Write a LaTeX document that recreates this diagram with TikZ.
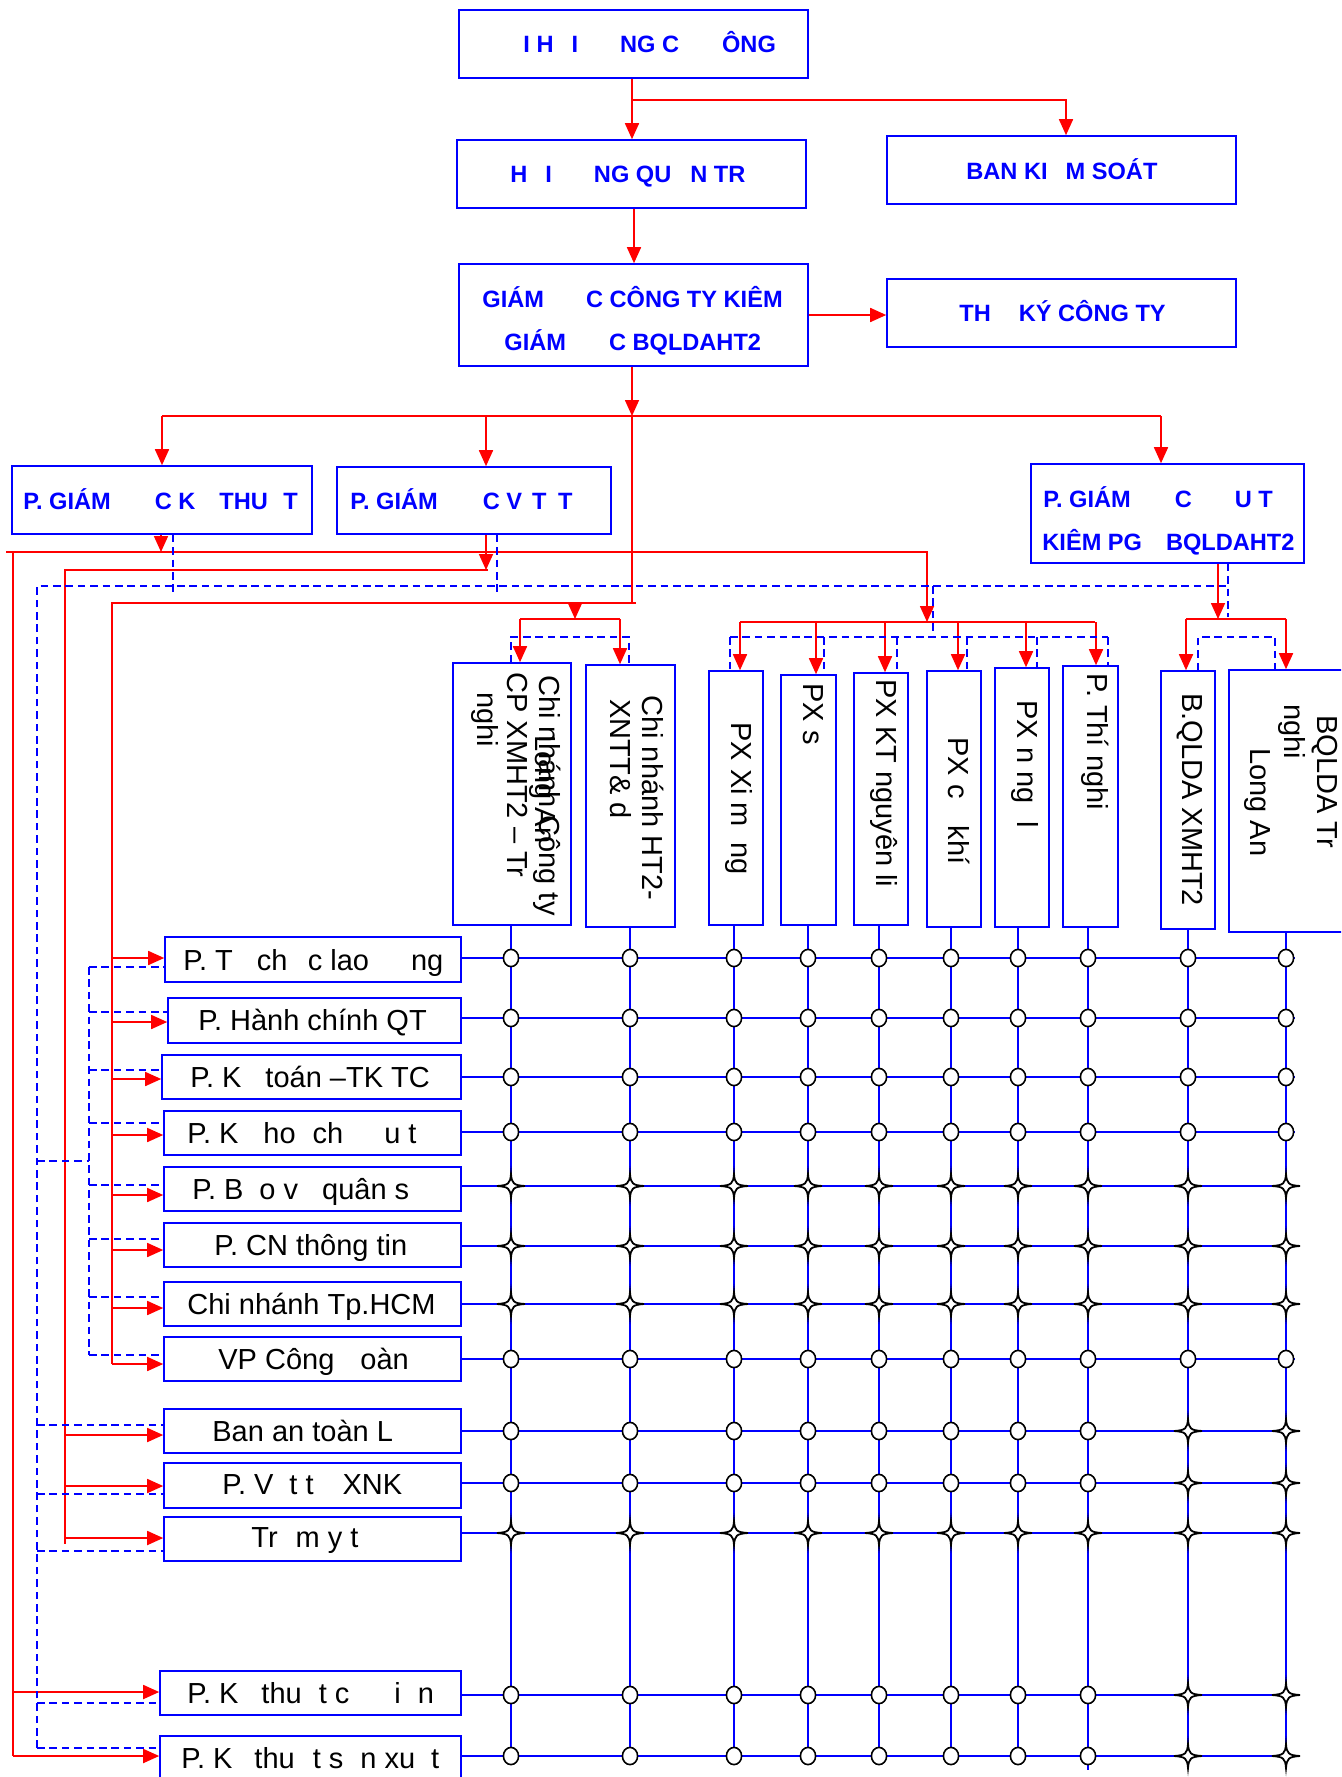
\documentclass[tikz,border=0pt]{standalone}
\usepackage{fontspec}
\setmainfont{Liberation Sans}
\usetikzlibrary{arrows.meta}
\begin{document}
\begin{tikzpicture}[x=0.5pt,y=-0.5pt,
  bx/.style={draw=blue, line width=0.8pt, inner sep=0pt},
  ra/.style={draw=red, line width=0.85pt, -{Triangle[length=8pt,width=7pt]}},
  rl/.style={draw=red, line width=0.85pt},
  bd/.style={draw=blue, line width=0.75pt, dash pattern=on 3.8pt off 2.4pt},
  gl/.style={draw=blue, line width=0.75pt},
  txtb/.style={font=\fontsize{11.8}{14}\selectfont\bfseries, text=blue, anchor=base west, inner sep=0pt},
  txtl/.style={font=\fontsize{14.5}{17}\selectfont, text=black, anchor=base west, inner sep=0pt},
  txtv/.style={txtl, rotate=-90},
  circm/.pic={\draw[black,line width=0.8pt,fill=white] (0,0) ellipse [x radius=3.8pt, y radius=4.3pt];},
  starm/.pic={\draw[black,line width=0.9pt,fill=white,line join=miter] (14,0) .. controls (2.4,0.8) and (0.8,2.4) .. (0,12) .. controls (-0.8,2.4) and (-2.4,0.8) .. (-14,0) .. controls (-2.4,-0.8) and (-0.8,-2.4) .. (0,-12) .. controls (0.8,-2.4) and (2.4,-0.8) .. (14,0) -- cycle;}
]
\useasboundingbox (0,0) rectangle (1341,1777);
\clip (0,0) rectangle (1341,1777);

% ---------- top boxes
\node[bx, minimum width=174.5pt, minimum height=34pt] (b1) at (633.5,44) {};
\node[bx, minimum width=174.5pt, minimum height=34pt] (b2) at (631.5,174) {};
\node[bx, minimum width=174.5pt, minimum height=34pt] (bks) at (1061.5,170) {};
\node[bx, minimum width=174.5pt, minimum height=51pt] (b3) at (633.5,315) {};
\node[bx, minimum width=174.5pt, minimum height=34pt] (tk) at (1061.5,313) {};
\node[bx, minimum width=150pt, minimum height=34pt] (pkt) at (162,500) {};
\node[bx, minimum width=137pt, minimum height=33.5pt] (pvt) at (474,500.5) {};
\node[bx, minimum width=136.5pt, minimum height=49.5pt] (pdt) at (1167.5,513.5) {};

\node[txtb] (t1) at (523,53) {I H\hspace{9pt}I\hspace{21pt}NG C\hspace{21.5pt}ÔNG};
\node[txtb] (t2) at (510,183) {H\hspace{9pt}I\hspace{21pt}NG QU\hspace{9.5pt}N TR};
\node[txtb] (tbks) at (966,179) {BAN KI\hspace{9pt}M SOÁT};
\node[txtb] (t3a) at (482,307) {GIÁM\hspace{21pt}C CÔNG TY KIÊM};
\node[txtb] (t3b) at (504,350) {GIÁM\hspace{21.5pt}C BQLDAHT2};
\node[txtb] (ttk) at (959,321) {TH\hspace{14pt}KÝ CÔNG TY};
\node[txtb] (tkt) at (23,509) {P. GIÁM\hspace{22pt}C K\hspace{12pt}THU\hspace{7.75pt}T};
\node[txtb] (tvt) at (350,509) {P. GIÁM\hspace{22.5pt}C V\hspace{5pt}T\hspace{5.8pt}T};
\node[txtb] (tdt1) at (1043,507) {P. GIÁM\hspace{22pt}C\hspace{21.5pt}U T};
\node[txtb] (tdt2) at (1042,550) {KIÊM PG\hspace{12pt}BQLDAHT2};

% ---------- vertical boxes
\node[bx, minimum width=59pt, minimum height=131pt] (v1) at (512,794) {};
\node[bx, minimum width=44.5pt, minimum height=131pt] (v2) at (630.5,796) {};
\node[bx, minimum width=27pt, minimum height=127pt] (v3) at (736,798) {};
\node[bx, minimum width=27.5pt, minimum height=125pt] (v4) at (808.5,800) {};
\node[bx, minimum width=27pt, minimum height=126pt] (v5) at (881,799) {};
\node[bx, minimum width=27pt, minimum height=128pt] (v6) at (954,799) {};
\node[bx, minimum width=27pt, minimum height=129.5pt] (v7) at (1022,797.5) {};
\node[bx, minimum width=27.5pt, minimum height=130.5pt] (v8) at (1090.5,796.5) {};
\node[bx, minimum width=27pt, minimum height=129pt] (v9) at (1188,800) {};
\node[bx, minimum width=65.5pt, minimum height=131pt] (v10) at (1294.5,801) {};

\node[txtv] (tv1a) at (539,675) {Chi nhánh Công ty};
\node[txtv] (tv1d) at (535,735) {Long An};
\node[txtv] (tv1b) at (507,672) {CP XMHT2 – Tr};
\node[txtv] (tv1c) at (477,692) {nghi};
\node[txtv] (tv2a) at (642,695) {Chi nhánh HT2-};
\node[txtv] (tv2b) at (610,699) {XNTT\& d};
\node[txtv] (tv3) at (731,722) {PX Xi m\hspace{7.5pt}ng};
\node[txtv] (tv4) at (803,683) {PX s};
\node[txtv] (tv5) at (876,679) {PX KT nguyên li};
\node[txtv] (tv6) at (948,737) {PX c\hspace{13.5pt}khí};
\node[txtv] (tv7) at (1017,700) {PX n ng\hspace{9pt}l};
\node[txtv] (tv8) at (1087,673) {P. Thí nghi};
\node[txtv] (tv9) at (1182,693) {B.QLDA XMHT2};
\node[txtv] (tv10a) at (1317,715) {BQLDA Tr};
\node[txtv] (tv10b) at (1284,704) {nghi};
\node[txtv] (tv10c) at (1250,748) {Long An};

% ---------- lower boxes
\node[bx, minimum width=148pt, minimum height=22.5pt] (h1) at (313,959.5) {};
\node[bx, minimum width=146.5pt, minimum height=22.5pt] (h2) at (314.5,1020.5) {};
\node[bx, minimum width=149.5pt, minimum height=22pt] (h3) at (311.5,1077) {};
\node[bx, minimum width=148.5pt, minimum height=22pt] (h4) at (312.5,1133) {};
\node[bx, minimum width=148.5pt, minimum height=22pt] (h5) at (312.5,1189) {};
\node[bx, minimum width=148.5pt, minimum height=22pt] (h6) at (312.5,1245) {};
\node[bx, minimum width=148.5pt, minimum height=22pt] (h7) at (312.5,1304) {};
\node[bx, minimum width=148.5pt, minimum height=22pt] (h8) at (312.5,1359) {};
\node[bx, minimum width=148.5pt, minimum height=22pt] (h9) at (312.5,1431) {};
\node[bx, minimum width=148.5pt, minimum height=22.5pt] (h10) at (312.5,1485.5) {};
\node[bx, minimum width=148.5pt, minimum height=22pt] (h11) at (312.5,1539) {};
\node[bx, minimum width=150.5pt, minimum height=22pt] (h12) at (310.5,1693) {};
\node[bx, minimum width=150.5pt, minimum height=22pt] (h13) at (310.5,1758) {};

\node[txtl] (th1) at (183,970) {P. T\hspace{12pt}ch\hspace{10.2pt}c lao\hspace{21pt}ng};
\node[txtl] (th2) at (198,1030) {P. Hành chính QT};
\node[txtl] (th3) at (190,1087) {P. K\hspace{12pt}toán –TK TC};
\node[txtl] (th4) at (187,1143) {P. K\hspace{12.5pt}ho\hspace{8.5pt}ch\hspace{20.5pt}u t};
\node[txtl] (th5) at (192,1199) {P. B\hspace{8pt}o v\hspace{12pt}quân s};
\node[txtl] (th6) at (214,1255) {P. CN thông tin};
\node[txtl] (th7) at (187,1314) {Chi nhánh Tp.HCM};
\node[txtl] (th8) at (218,1369) {VP Công\hspace{13pt}oàn};
\node[txtl] (th9) at (212,1441) {Ban an toàn L};
\node[txtl] (th10) at (222,1494) {P. V\hspace{8pt}t t\hspace{14.5pt}XNK};
\node[txtl] (th11) at (251,1547) {Tr\hspace{9pt}m y t};
\node[txtl] (th12) at (187,1703) {P. K\hspace{11.5pt}thu\hspace{8.5pt}t c\hspace{22.5pt}i\hspace{8.5pt}n};
\node[txtl] (th13) at (181,1768) {P. K\hspace{11pt}thu\hspace{9pt}t s\hspace{8.5pt}n xu\hspace{8pt}t};

% ---------- grid coordinates
\coordinate (c1) at (511,0); \coordinate (c2) at (630,0); \coordinate (c3) at (734,0);
\coordinate (c4) at (808,0); \coordinate (c5) at (879,0); \coordinate (c6) at (951,0);
\coordinate (c7) at (1018,0); \coordinate (c8) at (1088,0); \coordinate (c9) at (1188,0);
\coordinate (c10) at (1286,0); \coordinate (cend) at (1295,0);
\coordinate (r1) at (0,958); \coordinate (r2) at (0,1018); \coordinate (r3) at (0,1077);
\coordinate (r4) at (0,1132); \coordinate (r5) at (0,1186); \coordinate (r6) at (0,1246);
\coordinate (r7) at (0,1304); \coordinate (r8) at (0,1359); \coordinate (r9) at (0,1431);
\coordinate (r10) at (0,1483); \coordinate (r11) at (0,1533); \coordinate (r12) at (0,1695);
\coordinate (r13) at (0,1756);

% ---------- grid lines
\foreach \c/\v in {1/v1,2/v2,3/v3,4/v4,5/v5,6/v6,7/v7,9/v9,10/v10}
  \draw[gl] (\v.south -| c\c) -- (c\c |- r13);
\draw[gl] (v8.south -| c8) -- (1088,1770);
\foreach \i in {1,...,13}
  \draw[gl] (h\i.east |- r\i) -- (cend |- r\i);

% ---------- markers
\foreach \r in {1,2,3,4,8}
  \foreach \c in {1,...,10}
    \pic at (c\c |- r\r) {circm};
\foreach \r in {5,6,7,11}
  \foreach \c in {1,...,10}
    \pic at (c\c |- r\r) {starm};
\foreach \r in {9,10,12,13}{
  \foreach \c in {1,...,8}
    \pic at (c\c |- r\r) {circm};
  \foreach \c in {9,10}
    \pic at (c\c |- r\r) {starm};
}

% ---------- red connectors (top)
\draw[ra] (b1.south -| 632,0) -- (b2.north -| 632,0);
\draw[ra] (632,100) -| (bks.north -| 1066,0);
\draw[ra] (b2.south -| 634,0) -- (b3.north -| 634,0);
\draw[ra] (b3.east) -- (tk.west |- b3.east);
\draw[ra] (b3.south -| 632,0) -- (632,416);
\draw[rl] (162,416) -- (1161,416);
\draw[ra] (162,416) -- (pkt.north);
\draw[ra] (486,416) -- (pvt.north -| 486,0);
\draw[ra] (1161,416) -- (pdt.north -| 1161,0);
\draw[rl] (632,416) -- (632,603);
\draw[rl] (636,603) -- (112,603) -- (112,1364);

\draw[ra] (pkt.south -| 161,0) -- (161,552);
\draw[rl] (6,552) -- (928,552);
\draw[rl] (13,552) -- (13,1756);
\draw[ra] (927,552) -- (927,622);
\draw[rl] (740,622) -- (1095,622);
\foreach \x/\v in {740/v3,816/v4,885/v5,958/v6,1026/v7,1096/v8}
  \draw[ra] (\x,622) -- (\v.north -| \x,0);

\draw[ra] (pvt.south -| 486,0) -- (486,570);
\draw[rl] (488,570) -- (65,570) -- (65,1544);

\draw[ra] (575,603) -- (575,619);
\draw[rl] (520,619) -- (620,619);
\draw[ra] (520,619) -- (v1.north -| 520,0);
\draw[ra] (620,619) -- (v2.north -| 620,0);

\draw[ra] (pdt.south -| 1218,0) -- (1218,619);
\draw[rl] (1186,619) -- (1286,619);
\draw[ra] (1186,619) -- (v9.north -| 1186,0);
\draw[ra] (1286,619) -- (v10.north -| 1286,0);

% ---------- red arrows to lower boxes
\foreach \i/\y in {1/958,2/1022,3/1079,4/1135,5/1195,6/1250,7/1308,8/1364}
  \draw[ra] (112,\y) -- (h\i.west |- 0,\y);
\foreach \i/\y in {9/1435,10/1486,11/1538}
  \draw[ra] (65,\y) -- (h\i.west |- 0,\y);
\foreach \i/\y in {12/1692,13/1756}
  \draw[ra] (13,\y) -- (h\i.west |- 0,\y);

% ---------- blue dashed
\draw[bd] (pkt.south -| 173,0) -- (173,592);
\draw[bd] (pvt.south -| 497,0) -- (497,592);
\draw[bd] (37,1748) -- (37,586) -- (1228,586);
\draw[bd] (pdt.south -| 1228,0) -- (1228,617);
\draw[bd] (933,586) -- (933,637);
\draw[bd] (730,637) -- (1108,637);
\foreach \x/\v in {730/v3,824/v4,897/v5,967/v6,1037/v7,1108/v8}
  \draw[bd] (\x,637) -- (\v.north -| \x,0);
\draw[bd] (v1.north -| 511,0) -- (511,637) -- (629,637) -- (v2.north -| 629,0);
\draw[bd] (v9.north -| 1198,0) -- (1198,637) -- (1275,637) -- (v10.north -| 1275,0);
\draw[bd] (89,967) -- (89,1355);
\draw[bd] (37,1161) -- (89,1161);
\foreach \i/\y in {1/967,2/1012,3/1070,4/1123,5/1185,6/1239,7/1297,8/1355}
  \draw[bd] (89,\y) -- (h\i.west |- 0,\y);
\foreach \i/\y in {9/1425,10/1494,11/1551,12/1703,13/1748}
  \draw[bd] (37,\y) -- (h\i.west |- 0,\y);
\end{tikzpicture}
\end{document}
